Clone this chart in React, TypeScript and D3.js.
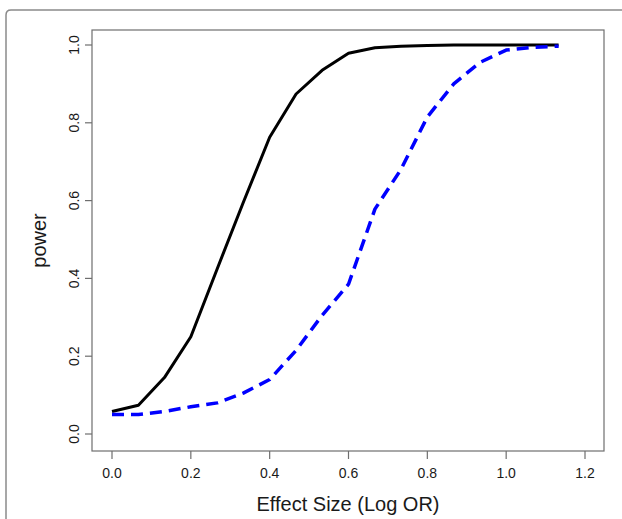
import React from "react";
import * as d3 from "d3";

const effectSizes = [0, 0.067, 0.133, 0.2, 0.267, 0.333, 0.4, 0.467, 0.533, 0.6, 0.667, 0.733, 0.8, 0.867, 0.933, 1.0, 1.067, 1.133];
const powerSolid = [0.058, 0.074, 0.145, 0.25, 0.425, 0.595, 0.763, 0.874, 0.935, 0.979, 0.993, 0.997, 0.999, 1.0, 1.0, 1.0, 1.0, 1.0];
const powerDashed = [0.05, 0.05, 0.058, 0.07, 0.08, 0.105, 0.14, 0.215, 0.305, 0.385, 0.578, 0.68, 0.815, 0.9, 0.955, 0.987, 0.994, 0.997];
const xTicks = [0, 0.2, 0.4, 0.6, 0.8, 1.0, 1.2];
const yTicks = [0, 0.2, 0.4, 0.6, 0.8, 1.0];
const xTitle = "Effect Size (Log OR)";
const yTitle = "power";

export default function App() {
  const box = { left: 92, right: 604, top: 30, bottom: 451 };
  const x = d3.scaleLinear().domain([0, 1.2]).range([112, 585]);
  const y = d3.scaleLinear().domain([0, 1]).range([434, 45]);
  const line = d3
    .line<number>()
    .x((_, i) => x(effectSizes[i]))
    .y((d) => y(d));
  const font = "Liberation Sans, Arial, sans-serif";
  const axisColor = "#6e6e6e";
  return (
    <svg
      width={622}
      height={519}
      style={{ position: "absolute", left: 0, top: 0, background: "#fff" }}
    >
      <rect x={0} y={0} width={622} height={519} fill="#fff" />
      <path
        d={`M6,${560} L6,15 Q6,10 11,10 L640,10`}
        fill="none"
        stroke="#8a8a8a"
        strokeWidth={1.5}
      />
      <rect
        x={box.left}
        y={box.top}
        width={box.right - box.left}
        height={box.bottom - box.top}
        fill="none"
        stroke={axisColor}
        strokeWidth={1.2}
      />
      {xTicks.map((t) => (
        <g key={"x" + t}>
          <line x1={x(t)} x2={x(t)} y1={box.bottom} y2={box.bottom + 8} stroke={axisColor} strokeWidth={1.2} />
          <text x={x(t)} y={478} textAnchor="middle" fontFamily={font} fontSize={14} fill="#1a1a1a">
            {t.toFixed(1)}
          </text>
        </g>
      ))}
      {yTicks.map((t) => (
        <g key={"y" + t}>
          <line x1={box.left - 7} x2={box.left} y1={y(t)} y2={y(t)} stroke={axisColor} strokeWidth={1.2} />
          <text
            transform={`translate(79,${y(t)}) rotate(-90)`}
            textAnchor="middle"
            fontFamily={font}
            fontSize={14}
            fill="#1a1a1a"
          >
            {t.toFixed(1)}
          </text>
        </g>
      ))}
      <text x={(box.left + box.right) / 2} y={511} textAnchor="middle" fontFamily={font} fontSize={20} fill="#1a1a1a">
        {xTitle}
      </text>
      <text
        transform={`translate(46,${(box.top + box.bottom) / 2}) rotate(-90)`}
        textAnchor="middle"
        fontFamily={font}
        fontSize={20}
        fill="#1a1a1a"
      >
        {yTitle}
      </text>
      <path d={line(powerSolid) || ""} fill="none" stroke="#000" strokeWidth={3} strokeLinejoin="round" />
      <path
        d={line(powerDashed) || ""}
        fill="none"
        stroke="#0000ff"
        strokeWidth={3.5}
        strokeDasharray="12 7"
        strokeLinejoin="round"
      />
    </svg>
  );
}
